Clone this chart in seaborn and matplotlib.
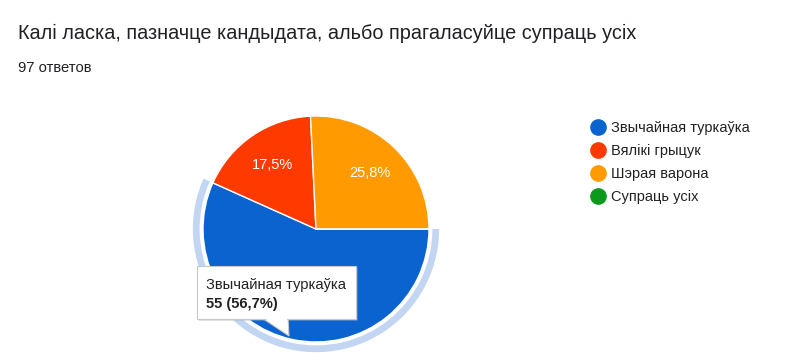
import numpy as np
import seaborn as sns
import matplotlib.pyplot as plt
from matplotlib.lines import Line2D
from matplotlib.patches import Rectangle, Polygon

title = "Калі ласка, пазначце кандыдата, альбо прагаласуйце супраць усіх"
subtitle = "97 ответов"
labels = ["Звычайная туркаўка", "Вялікі грыцук", "Шэрая варона", "Супраць усіх"]
counts = [55, 17, 25, 0]
colors = ["#0b63cf", "#ff3a00", "#ff9a00", "#0c9a1c"]
ring_color = "#c2d6f4"

sns.set_theme(style="white")
plt.rcParams["font.family"] = ["Liberation Sans", "DejaVu Sans"]

fig = plt.figure(figsize=(8, 3.6), dpi=100)
fig.text(18 / 800, 1 - 33 / 360, title, fontsize=14.3, color="#202124", va="center")
fig.text(18 / 800, 1 - 68 / 360, subtitle, fontsize=10.6, color="#202124", va="center")

# pie area: centre at (316, 229) px, radius 113 px
half = 140
ax = fig.add_axes([(316 - half) / 800, (360 - 229 - half) / 360, 2 * half / 800, 2 * half / 360])
lim = half / 113
ax.set_aspect("equal")
ax.axis("off")

total = sum(counts)


def fmt(p):
    if p < 1 or p > 50:
        return ""
    return f"{p:.1f}%".replace(".", ",")


wedges, texts, autotexts = ax.pie(
    counts, colors=colors, startangle=0, counterclock=False,
    autopct=fmt, pctdistance=0.69,
    wedgeprops=dict(edgecolor="white", linewidth=1),
    textprops=dict(color="white", fontsize=10.5),
)

# hover ring around the highlighted slice
ring_vals = [counts[0], total - counts[0]]
ax.pie(ring_vals, colors=[ring_color, "none"], startangle=0, counterclock=False,
       radius=1.09, wedgeprops=dict(width=0.06, edgecolor="none"))
ax.set_xlim(-lim, lim)
ax.set_ylim(-lim, lim)


# tooltip
def px(x, y):
    return ((x - 316) / 113, (229 - y) / 113)


x0, y0 = px(197, 319)
x1, y1 = px(356, 266)
ax.add_patch(Rectangle((x0 + 0.02, y0 - 0.02), x1 - x0, y1 - y0, facecolor="#b0b0b0", alpha=0.35,
                       edgecolor="none", zorder=5))
ax.add_patch(Polygon([px(262, 318), px(288, 318), px(289, 336)], closed=True,
                     facecolor="white", edgecolor="#c8c8c8", linewidth=0.8, zorder=6))
ax.add_patch(Rectangle((x0, y0), x1 - x0, y1 - y0, facecolor="white", edgecolor="#c8c8c8",
                       linewidth=0.8, zorder=6))
ax.add_patch(Polygon([px(263, 317), px(287, 317), px(288, 334)], closed=True,
                     facecolor="white", edgecolor="none", zorder=7))
tx, ty = px(206, 285)
ax.text(tx, ty, labels[0], fontsize=10.6, color="#222222", va="center", ha="left", zorder=8)
tx, ty = px(206, 304)
pct = counts[0] / total * 100
ax.text(tx, ty, f"{counts[0]} ({pct:.1f}%)".replace(".", ","), fontsize=10.6, fontweight="bold",
        color="#222222", va="center", ha="left", zorder=8)

handles = [Line2D([], [], marker="o", linestyle="none", markersize=11,
                  markerfacecolor=c, markeredgecolor=c) for c in colors]
fig.legend(handles, labels, loc="upper left", bbox_to_anchor=(583 / 800, 1 - 115 / 360),
           frameon=False, fontsize=10.5, handletextpad=0.3, labelspacing=0.62,
           borderaxespad=0, handlelength=1.2, labelcolor="#222222")

fig.savefig("out.png", dpi=100, facecolor="white")
